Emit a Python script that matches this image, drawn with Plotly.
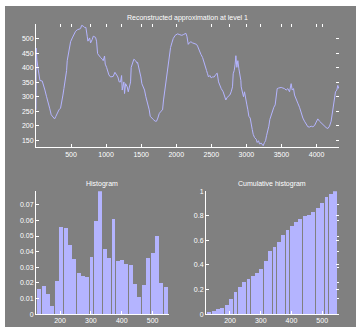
import plotly.graph_objects as go

# ---- data ----
signal_x = [1, 4, 8, 12, 28, 43, 57, 90, 104, 128, 152, 171, 195, 218, 242, 266, 285, 304, 328, 351,
            366, 385, 399, 423, 437, 446, 465, 480, 494, 518, 541, 565, 589, 636, 651, 674, 693, 712,
            731, 741, 765, 779, 803, 817, 850, 864, 879, 898, 921, 945, 959, 978, 988, 1007, 1026,
            1040, 1064, 1102, 1126, 1149, 1168, 1187, 1206, 1221, 1230, 1254, 1263, 1278, 1301, 1316,
            1335, 1349, 1358, 1377, 1396, 1420, 1444, 1449, 1472, 1496, 1510, 1529, 1548, 1567, 1591,
            1615, 1629, 1648, 1672, 1700, 1719, 1738, 1757, 1781, 1805, 1819, 1838, 1852, 1867, 1886,
            1900, 1919, 1938, 1957, 1985, 2019, 2052, 2080, 2099, 2123, 2137, 2152, 2171, 2185, 2209,
            2232, 2256, 2289, 2304, 2327, 2351, 2375, 2399, 2413, 2432, 2446, 2460, 2479, 2498, 2517,
            2541, 2565, 2584, 2603, 2622, 2641, 2669, 2688, 2707, 2726, 2745, 2764, 2783, 2802, 2812,
            2826, 2840, 2850, 2864, 2878, 2893, 2907, 2921, 2926, 2945, 2959, 2973, 2988, 3007, 3021,
            3035, 3054, 3068, 3083, 3097, 3116, 3140, 3154, 3173, 3187, 3211, 3225, 3239, 3258, 3273,
            3287, 3306, 3320, 3334, 3353, 3372, 3391, 3410, 3425, 3439, 3458, 3496, 3520, 3543, 3567,
            3591, 3615, 3638, 3653, 3672, 3686, 3710, 3733, 3757, 3781, 3805, 3828, 3852, 3876, 3900,
            3923, 3947, 3971, 3995, 4018, 4042, 4066, 4090, 4113, 4137, 4161, 4185, 4208, 4223, 4237,
            4256, 4270, 4289, 4303, 4318]
signal_y = [255, 467, 400, 430, 401, 373, 356, 354, 339, 323, 300, 278, 261, 238, 231, 224, 233, 244, 255, 261,
            278, 306, 328, 362, 390, 424, 452, 474, 489, 502, 513, 525, 530, 534, 545, 543, 538, 538,
            508, 491, 502, 485, 497, 508, 504, 491, 448, 440, 435, 429, 424, 440, 412, 401, 384,
            375, 368, 370, 384, 373, 368, 351, 351, 373, 323, 351, 311, 345, 334, 317,
            345, 351, 401, 418, 429, 424, 415, 418, 396, 368, 345, 334, 323, 300, 278,
            255, 233, 227, 222, 216, 216, 227, 242, 250, 255, 289, 323, 356, 390, 424,
            446, 469, 485, 500, 511, 516, 513, 511, 513, 516, 518, 508, 480, 485, 489,
            485, 482, 480, 474, 457, 446, 435, 412, 401, 390, 379, 368, 373, 365, 368,
            368, 377, 381, 351, 339, 328, 317, 306, 289, 298, 303, 306, 317, 334, 379,
            390, 412, 441, 401, 424, 396, 379, 356, 334, 317, 300, 317, 289, 272, 255,
            233, 227, 199, 188, 171, 160, 154, 143, 149, 138, 141, 134, 132, 143, 149,
            166, 182, 199, 222, 238, 255, 264, 272, 311, 328, 330, 332, 330, 328, 323,
            328, 317, 345, 323, 328, 306, 289, 278, 264, 244, 227, 216, 205, 197, 196,
            199, 197, 201, 213, 224, 216, 210, 205, 199, 194, 191, 199, 216, 244, 272,
            300, 317, 323, 339, 328]

bin_centers = [133, 147, 161, 175, 189, 204, 218, 232, 246, 260, 274, 288, 302, 316, 330,
               345, 359, 373, 387, 401, 415, 429, 443, 457, 471, 486, 500, 514, 528, 542]
hist_vals = [0.0157, 0.0176, 0.0125, 0.0051, 0.0208, 0.0558, 0.0550, 0.0443, 0.0352, 0.0259,
             0.0240, 0.0233, 0.0367, 0.0592, 0.0787, 0.0416, 0.0356, 0.0607, 0.0340, 0.0348,
             0.0320, 0.0310, 0.0193, 0.0106, 0.0182, 0.0359, 0.0390, 0.0500, 0.0200, 0.0170]
cum_vals = [0.011, 0.027, 0.043, 0.051, 0.070, 0.123, 0.179, 0.222, 0.259, 0.286,
            0.307, 0.332, 0.366, 0.428, 0.511, 0.548, 0.583, 0.644, 0.684, 0.717,
            0.749, 0.775, 0.797, 0.807, 0.832, 0.861, 0.901, 0.952, 0.976, 1.000]

top_xticks = [500, 1000, 1500, 2000, 2500, 3000, 3500, 4000]
top_yticks = [150, 200, 250, 300, 350, 400, 450, 500]
hist_xticks = [200, 300, 400, 500]
hist_yticks = [0, 0.01, 0.02, 0.03, 0.04, 0.05, 0.06, 0.07]
hist_ylabels = ["0", "0.01", "0.02", "0.03", "0.04", "0.05", "0.06", "0.07"]
cum_yticks = [0, 0.2, 0.4, 0.6, 0.8, 1]
cum_ylabels = ["0", "0.2", "0.4", "0.6", "0.8", "1"]

titles = ["Reconstructed approximation at level 1", "Histogram", "Cumulative histogram"]

# ---- styling ----
W, H = 362, 334
LINE = "#b4b4ff"
BG = "#808080"
FONT = "Liberation Sans"
tickfont = dict(family=FONT, size=7, color="white")

def px_x(p):
    return p / W

def px_y(p):
    return 1 - p / H

top_dom_x = [px_x(36), px_x(339)]
top_dom_y = [px_y(146.5), px_y(20.7)]
hl_dom_x = [px_x(36), px_x(169)]
hr_dom_x = [px_x(206), px_x(338.5)]
bot_dom_y = [px_y(316.7), px_y(191.2)]

xr_top = [1, 4320]
yr_top = [126, 549]
xr_hist = [122, 553]
yr_hist = [0, 0.0787]
yr_cum = [0, 1]

fig = go.Figure()
fig.add_trace(go.Scatter(x=signal_x, y=signal_y, mode="lines",
                         line=dict(color=LINE, width=1), xaxis="x", yaxis="y",
                         showlegend=False, hoverinfo="skip"))
fig.add_trace(go.Bar(x=bin_centers, y=hist_vals, width=12.5, marker=dict(color=LINE, line=dict(width=0)),
                     xaxis="x2", yaxis="y2", showlegend=False, hoverinfo="skip"))
fig.add_trace(go.Bar(x=bin_centers, y=cum_vals, width=12.5, marker=dict(color=LINE, line=dict(width=0)),
                     xaxis="x3", yaxis="y3", showlegend=False, hoverinfo="skip"))
# dummy traces for mirrored tick axes
for k in (4, 5, 6):
    fig.add_trace(go.Scatter(x=[], y=[], xaxis=f"x{k}", yaxis=f"y{k}",
                             showlegend=False, hoverinfo="skip"))

def base_axis(dom, rng, tickvals, ticktext=None, anchor=None):
    d = dict(domain=dom, range=rng, tickvals=tickvals, ticks="inside", ticklen=3,
             tickwidth=1, tickcolor="white", showline=True, linecolor="white", linewidth=1,
             showgrid=False, zeroline=False, tickfont=tickfont, anchor=anchor, fixedrange=True)
    if ticktext is not None:
        d["ticktext"] = ticktext
    return d

def mirror_axis(over, rng, tickvals, side):
    return dict(overlaying=over, side=side, range=rng, tickvals=tickvals, ticks="inside",
                ticklen=3, tickwidth=1, tickcolor="white", showline=False, showgrid=False,
                zeroline=False, showticklabels=False, fixedrange=True)

layout = dict(
    width=W, height=H, margin=dict(l=0, r=0, t=0, b=0),
    paper_bgcolor="white", plot_bgcolor="black", bargap=0,
    font=dict(family=FONT, color="white"),
    xaxis=base_axis(top_dom_x, xr_top, top_xticks, anchor="y"),
    yaxis=base_axis(top_dom_y, yr_top, top_yticks, anchor="x"),
    xaxis2=base_axis(hl_dom_x, xr_hist, hist_xticks, anchor="y2"),
    yaxis2=base_axis(bot_dom_y, yr_hist, hist_yticks, hist_ylabels, anchor="x2"),
    xaxis3=base_axis(hr_dom_x, xr_hist, hist_xticks, anchor="y3"),
    yaxis3=base_axis(bot_dom_y, yr_cum, cum_yticks, cum_ylabels, anchor="x3"),
    xaxis4=mirror_axis("x", xr_top, top_xticks, "top"),
    yaxis4=mirror_axis("y", yr_top, top_yticks, "right"),
    xaxis5=mirror_axis("x2", xr_hist, hist_xticks, "top"),
    yaxis5=mirror_axis("y2", yr_hist, hist_yticks, "right"),
    xaxis6=mirror_axis("x3", xr_hist, hist_xticks, "top"),
    yaxis6=mirror_axis("y3", yr_cum, cum_yticks, "right"),
    shapes=[dict(type="rect", xref="paper", yref="paper", x0=px_x(5), x1=px_x(356),
                 y0=px_y(330), y1=px_y(2), fillcolor=BG, line=dict(width=0), layer="below")],
    annotations=[
        dict(text=titles[0], x=(top_dom_x[0] + top_dom_x[1]) / 2, y=px_y(14), xref="paper", yref="paper",
             showarrow=False, font=dict(family=FONT, size=7, color="white"), xanchor="center", yanchor="middle"),
        dict(text=titles[1], x=(hl_dom_x[0] + hl_dom_x[1]) / 2, y=px_y(183.5), xref="paper", yref="paper",
             showarrow=False, font=dict(family=FONT, size=7, color="white"), xanchor="center", yanchor="middle"),
        dict(text=titles[2], x=(hr_dom_x[0] + hr_dom_x[1]) / 2, y=px_y(183.5), xref="paper", yref="paper",
             showarrow=False, font=dict(family=FONT, size=7, color="white"), xanchor="center", yanchor="middle"),
    ],
)
fig.update_layout(layout)
fig.write_html("out.html")
